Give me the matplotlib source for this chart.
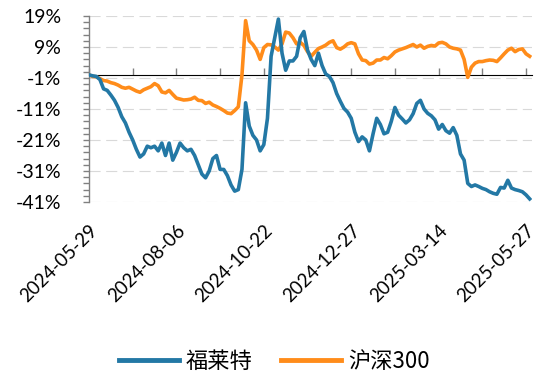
import matplotlib
matplotlib.use("Agg")
import matplotlib.pyplot as plt
import numpy as np
from matplotlib.ticker import FuncFormatter

# ---- data (cumulative return, %), sampled every 2 trading days ----
flt = [0.0, -0.3, -0.5, -1.5, -4.5, -5.0, -6.5, -8.2, -10.5, -13.5,
       -15.5, -18.5, -21.0, -24.0, -26.5, -25.5, -23.0, -23.5, -23.0, -24.5,
       -22.0, -26.0, -22.0, -27.5, -25.0, -22.0, -23.5, -24.5, -24.0, -26.0,
       -29.0, -32.0, -33.2, -31.0, -27.0, -26.0, -30.5, -30.5, -32.5, -35.5,
       -37.5, -37.0, -30.5, -9.0, -16.5, -19.5, -21.0, -24.5, -22.5, -14.0,
       6.0, 12.0, 18.0, 7.0, 1.5, 4.5, 4.5, 6.0, 12.0, 14.0,
       8.0, 5.0, 3.0, 7.0, 3.0, 0.3, -0.5, -2.5, -6.0, -8.5,
       -10.8, -12.0, -14.0, -18.5, -21.5, -20.0, -21.0, -24.5, -19.0, -14.0,
       -16.0, -19.0, -18.5, -15.0, -10.5, -13.0, -14.2, -15.5, -14.5, -12.5,
       -9.2, -8.2, -11.0, -12.4, -13.2, -14.5, -17.5, -16.0, -18.0, -18.8,
       -17.0, -19.5, -25.5, -27.5, -35.0, -36.0, -35.5, -36.0, -36.6, -37.0,
       -37.7, -38.2, -38.5, -36.3, -36.5, -34.0, -36.5, -37.0, -37.3, -37.7,
       -38.7, -40.0]
hs300 = [0.0, -0.5, -0.6, -1.2, -1.8, -2.0, -2.5, -2.8, -3.3, -4.0,
         -4.3, -4.0, -4.6, -5.2, -5.6, -4.8, -4.3, -3.8, -2.8, -3.5,
         -5.5, -5.8, -5.0, -6.3, -7.5, -7.8, -8.1, -8.0, -7.8, -7.2,
         -8.2, -8.3, -9.2, -8.8, -9.7, -10.2, -10.8, -11.5, -12.3, -12.5,
         -11.5, -10.3, 0.0, 17.5, 11.0, 9.8, 8.0, 5.0, 8.8, 9.8,
         9.7, 9.0, 8.0, 10.0, 13.8, 13.5, 12.0, 10.0, 10.5, 9.5,
         7.5, 6.0, 7.3, 8.5, 9.0, 9.6, 10.5, 11.0, 8.8, 8.3,
         9.0, 10.0, 10.4, 10.0, 6.8, 4.8, 4.6, 3.5, 3.8, 4.8,
         4.8, 5.6, 5.2, 6.2, 7.4, 8.0, 8.4, 8.8, 9.3, 9.8,
         9.0, 9.6, 8.6, 9.2, 9.5, 9.3, 10.3, 10.5, 10.0, 9.0,
         8.6, 8.4, 8.0, 5.0, -0.8, 2.5, 3.8, 4.3, 4.3, 4.6,
         4.8, 4.7, 4.3, 5.5, 6.8, 8.0, 8.6, 7.5, 8.2, 8.4,
         6.8, 6.0]
tick_labels = ["2024-05-29", "2024-08-06", "2024-10-22",
               "2024-12-27", "2025-03-14", "2025-05-27"]
series_names = ["福莱特", "沪深300"]

x = np.arange(len(flt)) * 2  # trading-day index

BLUE = "#2378a5"
ORANGE = "#ff8c1a"
GRAY = "#808080"

plt.rcParams["font.family"] = ["Lato", "DejaVu Sans"]

fig = plt.figure(figsize=(5.43, 3.78), dpi=100)
ax = fig.add_axes([89 / 543, 1 - 202 / 378, 442.5 / 543, 186 / 378])

ax.set_xlim(0, 243)
ax.set_ylim(-41, 19)

# grid
for v in np.arange(-41, 20, 10):
    ax.axhline(v, color="#d9d9d9", lw=0.8, ls=(0, (10, 5)), zorder=0)

l1, = ax.plot(x, flt, color=BLUE, lw=2.6, label=series_names[0], zorder=3,
              solid_joinstyle="round")
l2, = ax.plot(x, hs300, color=ORANGE, lw=2.6, label=series_names[1], zorder=2,
              solid_joinstyle="round")

# y axis
ax.set_yticks(np.arange(-41, 20, 10))
ax.set_yticks(np.arange(-41, 19.5, 2), minor=True)
ax.yaxis.set_major_formatter(FuncFormatter(lambda v, p: f"{v:.0f}%"))
ax.yaxis.set_tick_params(which="major", length=4, width=1, color=GRAY,
                         labelsize=14, pad=16, labelcolor="black")
ax.yaxis.set_tick_params(which="minor", length=4, width=1, color=GRAY)
for s in ["top", "right", "bottom"]:
    ax.spines[s].set_visible(False)
ax.spines["left"].set_color(GRAY)
ax.spines["left"].set_linewidth(1)

# x labels at bottom
ax.set_xticks(np.arange(0, 241, 48))
ax.set_xticklabels(tick_labels, rotation=45, ha="right",
                   rotation_mode="anchor", fontsize=13.5)
ax.tick_params(axis="x", which="both", length=0, pad=14)

# horizontal axis line at 0 with tick marks
sec = ax.secondary_xaxis(41 / 60)
sec.set_xticks(np.arange(0, 241, 24))
sec.set_xticklabels([])
sec.tick_params(axis="x", direction="out", length=5, width=1, color=GRAY)
sec.spines["bottom"].set_color(GRAY)
sec.spines["bottom"].set_linewidth(1)

leg = fig.legend(handles=[l1, l2], loc="center", bbox_to_anchor=(0.505, 1 - 361 / 378),
                 ncol=2, frameon=False, handlelength=2.7, handletextpad=0.3,
                 columnspacing=1.3,
                 prop={"family": ["Noto Sans CJK SC", "DejaVu Sans"], "size": 16})
for h in leg.legend_handles:
    h.set_linewidth(3.5)

fig.savefig("out.png", dpi=100)
